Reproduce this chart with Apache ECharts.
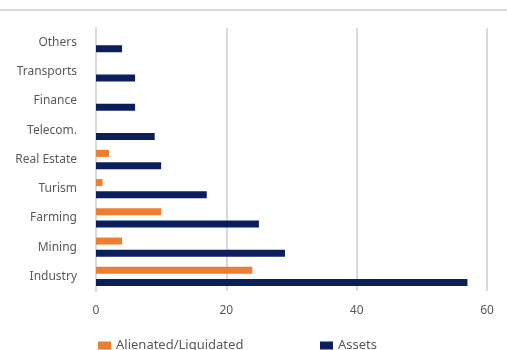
<!DOCTYPE html>
<html>
<head>
<meta charset="utf-8">
<script src="https://cdn.jsdelivr.net/npm/echarts@6/dist/echarts.min.js"></script>
<style>html,body{margin:0;padding:0;background:#fff;}#c{width:507px;height:350px;}</style>
</head>
<body>
<div id="c"></div>
<script>
var categories = ['Industry','Mining','Farming','Turism','Real Estate','Telecom.','Finance','Transports','Others'];
var alienated = [24, 4, 10, 1, 2, 0, 0, 0, 0];
var assets = [57, 29, 25, 17, 10, 9, 6, 6, 4];
var xTicks = [0, 20, 40, 60];
var seriesNames = ['Alienated/Liquidated', 'Assets'];

var chart = echarts.init(document.getElementById('c'), null, {renderer: 'canvas'});
var font = 'Noto Sans';
chart.setOption({
  animation: false,
  backgroundColor: '#ffffff',
  grid: {left: 96, right: 20, top: 28, bottom: 59, containLabel: false},
  graphic: [{
    type: 'rect', shape: {x: 0, y: 9, width: 507, height: 2}, style: {fill: '#d9d9d9'}
  }],
  legend: [{
    data: [seriesNames[0]], left: 93, top: 334, itemWidth: 13, itemHeight: 8, itemGap: 6,
    icon: 'rect', textStyle: {color: '#595959', fontSize: 13, fontFamily: font}
  }, {
    data: [seriesNames[1]], left: 315, top: 334, itemWidth: 13, itemHeight: 8,
    icon: 'rect', textStyle: {color: '#595959', fontSize: 13, fontFamily: font}
  }],
  xAxis: {
    type: 'value', min: xTicks[0], max: xTicks[xTicks.length - 1], interval: 20,
    axisLine: {show: false}, axisTick: {show: false},
    splitLine: {show: true, lineStyle: {color: '#d9d9d9', width: 2}},
    axisLabel: {color: '#595959', fontSize: 12, fontFamily: font, margin: 14}
  },
  yAxis: {
    type: 'category', data: categories,
    axisLine: {show: true, lineStyle: {color: '#d9d9d9', width: 2}},
    axisTick: {show: false},
    axisLabel: {color: '#595959', fontSize: 12, fontFamily: font, margin: 19}
  },
  series: [{
    name: seriesNames[0], type: 'bar', data: alienated, barWidth: 7, barGap: '75%',
    itemStyle: {color: '#ED7D31'}
  }, {
    name: seriesNames[1], type: 'bar', data: assets, barWidth: 7, barGap: '75%',
    itemStyle: {color: '#0B1F5C'}
  }]
});
</script>
</body>
</html>
